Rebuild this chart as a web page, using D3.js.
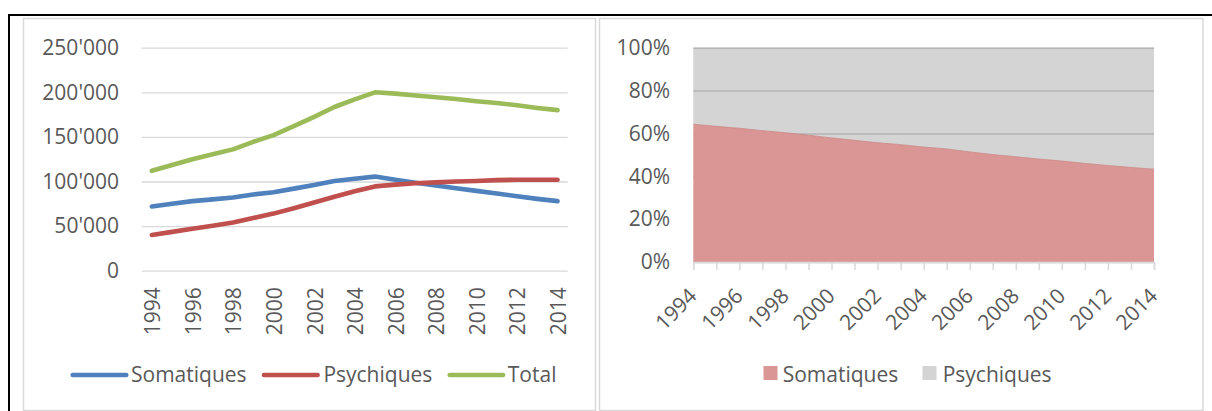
<!DOCTYPE html>
<html>
<head>
<meta charset="utf-8">
<script src="https://cdn.jsdelivr.net/npm/d3@7"></script>
<style>
  body { margin: 0; background: #fff; }
  svg text { font-family: "Open Sans", sans-serif; font-size: 21px; fill: #595959; }
</style>
</head>
<body>
<div id="chart"></div>
<script>
(function(){

  var width = 1212;
  var height = 411;

  var years = [1994, 1995, 1996, 1997, 1998, 1999, 2000, 2001, 2002, 2003, 2004,
               2005, 2006, 2007, 2008, 2009, 2010, 2011, 2012, 2013, 2014];

  var somatiques = [72000, 75000, 78000, 80000, 82000, 85500, 88000, 92000, 96000, 100500, 103000,
                    105500, 102000, 98500, 95500, 92500, 89500, 86500, 83500, 80500, 78000];

  var psychiques = [40000, 43500, 47000, 50500, 54000, 59000, 64000, 70000, 76500, 83000, 89000,
                    94500, 96500, 98000, 99000, 100000, 100500, 101500, 102000, 102000, 102000];

  var total = [112000, 118500, 125000, 130500, 136000, 144500, 152000, 162000, 172500, 183500, 192000,
               200000, 198500, 196500, 194500, 192500, 190000, 188000, 185500, 182500, 180000];

  var xTickYears = [1994, 1996, 1998, 2000, 2002, 2004, 2006, 2008, 2010, 2012, 2014];
  var yTicksLeft = [0, 50000, 100000, 150000, 200000, 250000];
  var yTicksRight = [0, 0.2, 0.4, 0.6, 0.8, 1];

  var seriesNames = ['Somatiques', 'Psychiques', 'Total'];
  var lineColors = ['#4F81BD', '#C0504D', '#9BBB59'];
  var areaColors = ['#D99694', '#D4D4D4'];

  var svg = d3.select('#chart')
        .append('svg')
        .attr('width', width)
        .attr('height', height);

  // page frame: black rule on top and left, grey chart borders
  svg.append('line').attr('x1', 8).attr('x2', width).attr('y1', 15).attr('y2', 15)
     .attr('stroke', '#000').attr('stroke-width', 2);
  svg.append('line').attr('x1', 9).attr('x2', 9).attr('y1', 14).attr('y2', height)
     .attr('stroke', '#000').attr('stroke-width', 2);
  svg.append('rect').attr('x', 23.5).attr('y', 18.5).attr('width', 572).attr('height', 392)
     .attr('fill', 'none').attr('stroke', '#d9d9d9').attr('stroke-width', 1.5);
  svg.append('rect').attr('x', 599.5).attr('y', 18.5).attr('width', 603.5).attr('height', 392)
     .attr('fill', 'none').attr('stroke', '#d9d9d9').attr('stroke-width', 1.5);

  var rows = years.map(function(y, i){
    return { year: y, Somatiques: somatiques[i], Psychiques: psychiques[i], Total: total[i] };
  });

  // ---------- left: line chart ----------
  var xL = d3.scalePoint().domain(years).range([141.7, 567.7]).padding(0.5);
  var yL = d3.scaleLinear().domain([0, 250000]).range([270.7, 47.7]);

  var fmtK = d3.formatLocale({ decimal: '.', thousands: "'", grouping: [3], currency: ['', ''] }).format(',');

  var gyL = svg.append('g')
      .attr('transform', 'translate(141.7,0)')
      .call(d3.axisLeft(yL).tickValues(yTicksLeft).tickSize(-426).tickPadding(22.7).tickFormat(fmtK));
  gyL.select('.domain').remove();
  gyL.selectAll('.tick line').attr('stroke', '#d9d9d9').attr('stroke-width', 1.3);
  gyL.selectAll('.tick text').attr('fill', '#595959').style('font-size', '21px').style('font-family', '"Open Sans", sans-serif');

  var gxL = svg.append('g')
      .attr('transform', 'translate(0,270.7)')
      .call(d3.axisBottom(xL).tickValues(xTickYears).tickSize(0));
  gxL.select('.domain').remove();
  gxL.selectAll('.tick text')
      .attr('x', 0).attr('y', 0).attr('dy', 0)
      .attr('text-anchor', 'end')
      .attr('transform', 'translate(8,16.6) rotate(-90)')
      .attr('fill', '#595959').style('font-size', '21px').style('font-family', '"Open Sans", sans-serif');

  var lineGen = function(key){
    return d3.line()
      .x(function(d){ return xL(d.year); })
      .y(function(d){ return yL(d[key]); });
  };

  seriesNames.forEach(function(key, i){
    svg.append('path')
      .datum(rows)
      .attr('d', lineGen(key))
      .attr('fill', 'none')
      .attr('stroke', lineColors[i])
      .attr('stroke-width', 4.6)
      .attr('stroke-linecap', 'round')
      .attr('stroke-linejoin', 'round');
  });

  // left legend
  var legL = [
    { x1: 72.7, x2: 126.3, tx: 131 },
    { x1: 264, x2: 317.6, tx: 323.4 },
    { x1: 449.7, x2: 503, tx: 507.8 }
  ];
  legL.forEach(function(p, i){
    svg.append('line').attr('x1', p.x1).attr('x2', p.x2).attr('y1', 375).attr('y2', 375)
      .attr('stroke', lineColors[i]).attr('stroke-width', 4.6).attr('stroke-linecap', 'round');
    svg.append('text').attr('x', p.tx).attr('y', 381.5).text(seriesNames[i]);
  });

  // ---------- right: 100% stacked area ----------
  var xR = d3.scalePoint().domain(years).range([693.3, 1154]);
  var yR = d3.scaleLinear().domain([0, 1]).range([262, 47.7]);

  var stacked = d3.stack()
      .keys(['Somatiques', 'Psychiques'])
      .offset(d3.stackOffsetExpand)(rows);

  var areaGen = d3.area()
      .x(function(d){ return xR(d.data.year); })
      .y0(function(d){ return yR(d[0]); })
      .y1(function(d){ return yR(d[1]); });

  // Psychiques behind, then grid, then Somatiques
  svg.append('path').attr('d', areaGen(stacked[1])).attr('fill', areaColors[1]);

  var gyR = svg.append('g')
      .attr('transform', 'translate(693.3,0)')
      .call(d3.axisLeft(yR).tickValues(yTicksRight).tickSize(-460.7).tickPadding(23.3).tickFormat(d3.format('.0%')));
  gyR.select('.domain').remove();
  gyR.selectAll('.tick line').attr('stroke', '#b4b4b4').attr('stroke-width', 1.5);
  gyR.selectAll('.tick text').attr('fill', '#595959').style('font-size', '21px').style('font-family', '"Open Sans", sans-serif');

  svg.append('path').attr('d', areaGen(stacked[0])).attr('fill', areaColors[0]);
  svg.append('path')
      .attr('d', d3.line().x(function(d){ return xR(d.data.year); }).y(function(d){ return yR(d[1]); })(stacked[0]))
      .attr('fill', 'none').attr('stroke', '#c98584').attr('stroke-width', 0.8);

  var gxR = svg.append('g')
      .attr('transform', 'translate(0,262)')
      .call(d3.axisBottom(xR).tickValues(years).tickSize(8)
        .tickFormat(function(d){ return xTickYears.indexOf(d) >= 0 ? d : ''; }));
  gxR.select('.domain').attr('stroke', '#d9d9d9').attr('stroke-width', 1.5);
  gxR.selectAll('.tick line').attr('stroke', '#d9d9d9').attr('stroke-width', 1.5);
  gxR.selectAll('.tick text')
      .attr('x', 0).attr('y', 0).attr('dy', 0)
      .attr('text-anchor', 'end')
      .attr('transform', 'translate(4.3,35.3) rotate(-45)')
      .attr('fill', '#595959').style('font-size', '21px').style('font-family', '"Open Sans", sans-serif');

  // right legend
  var legR = [ { rx: 763.5, tx: 782.7 }, { rx: 922.5, tx: 942.7 } ];
  legR.forEach(function(p, i){
    svg.append('rect').attr('x', p.rx).attr('y', 366).attr('width', 14).attr('height', 14)
      .attr('fill', areaColors[i]);
    svg.append('text').attr('x', p.tx).attr('y', 381.5).text(['Somatiques', 'Psychiques'][i]);
  });

})();
</script>
</body>
</html>
